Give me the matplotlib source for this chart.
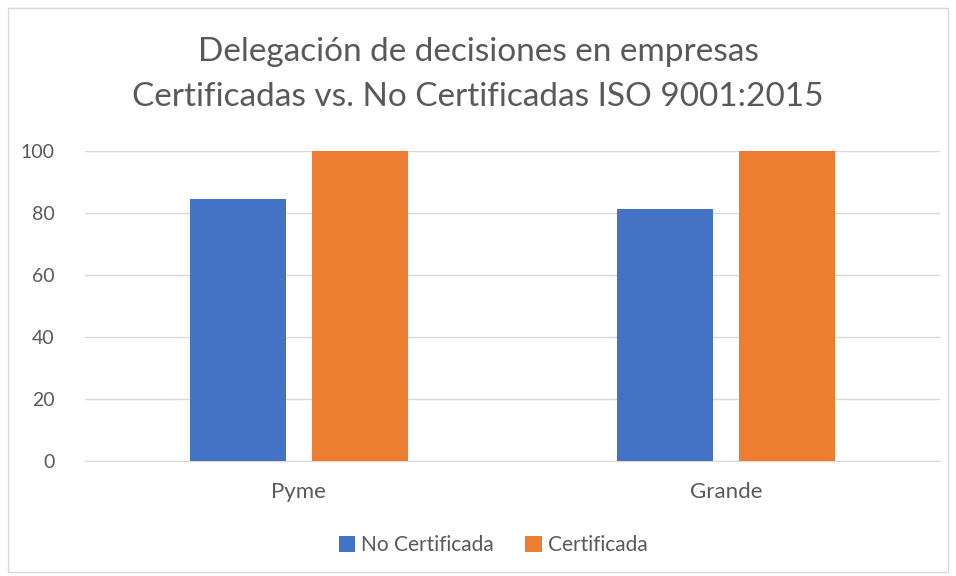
import matplotlib
matplotlib.use("Agg")
import matplotlib.pyplot as plt
from matplotlib.patches import Rectangle
import numpy as np

categories = ["Pyme", "Grande"]
series_names = ["No Certificada", "Certificada"]
no_cert = [84.5, 81.4]
cert = [100, 100]
yticks = [0, 20, 40, 60, 80, 100]

plt.rcParams['font.family'] = ['Lato', 'DejaVu Sans']
txt = '#595959'

fig = plt.figure(figsize=(9.56, 5.76), dpi=100)
ax = fig.add_axes([85/956, 1-461/576, 855/956, 310/576])

x = np.arange(len(categories))
w = 0.2246
off = 0.143
ax.bar(x - off, no_cert, w, color='#4472C4', label=series_names[0], zorder=3)
ax.bar(x + off, cert, w, color='#ED7D31', label=series_names[1], zorder=3)

ax.set_xlim(-0.5, 1.5)
ax.set_ylim(0, 100)
ax.set_yticks(yticks)
ax.set_xticks(x)
ax.set_xticklabels(categories)
ax.tick_params(axis='x', length=0, labelsize=16, colors=txt, pad=15)
ax.tick_params(axis='y', length=0, labelsize=14, colors=txt, pad=22)
ax.yaxis.grid(True, color='#D9D9D9', linewidth=1, zorder=0)
for s in ['top', 'right', 'left']:
    ax.spines[s].set_visible(False)
ax.spines['bottom'].set_color('#D9D9D9')
ax.spines['bottom'].set_zorder(1)

fig.text(0.5, 1-52/576, "Delegación de decisiones en empresas", ha='center', va='center', fontsize=24, color=txt)
fig.text(0.5, 1-97/576, "Certificadas vs. No Certificadas ISO 9001:2015", ha='center', va='center', fontsize=24, color=txt)

leg = fig.legend(loc='center', bbox_to_anchor=(0.516, 1-545/576), ncol=2, frameon=False,
                 fontsize=15, handlelength=0.8, handleheight=0.8, handletextpad=0.3, columnspacing=1.5)
for t in leg.get_texts():
    t.set_color(txt)

fig.patches.append(Rectangle((8/956, 4/576), 940/956, 564/576, transform=fig.transFigure,
                             fill=False, edgecolor='#D9D9D9', linewidth=1))

fig.savefig("out.png", dpi=100)
